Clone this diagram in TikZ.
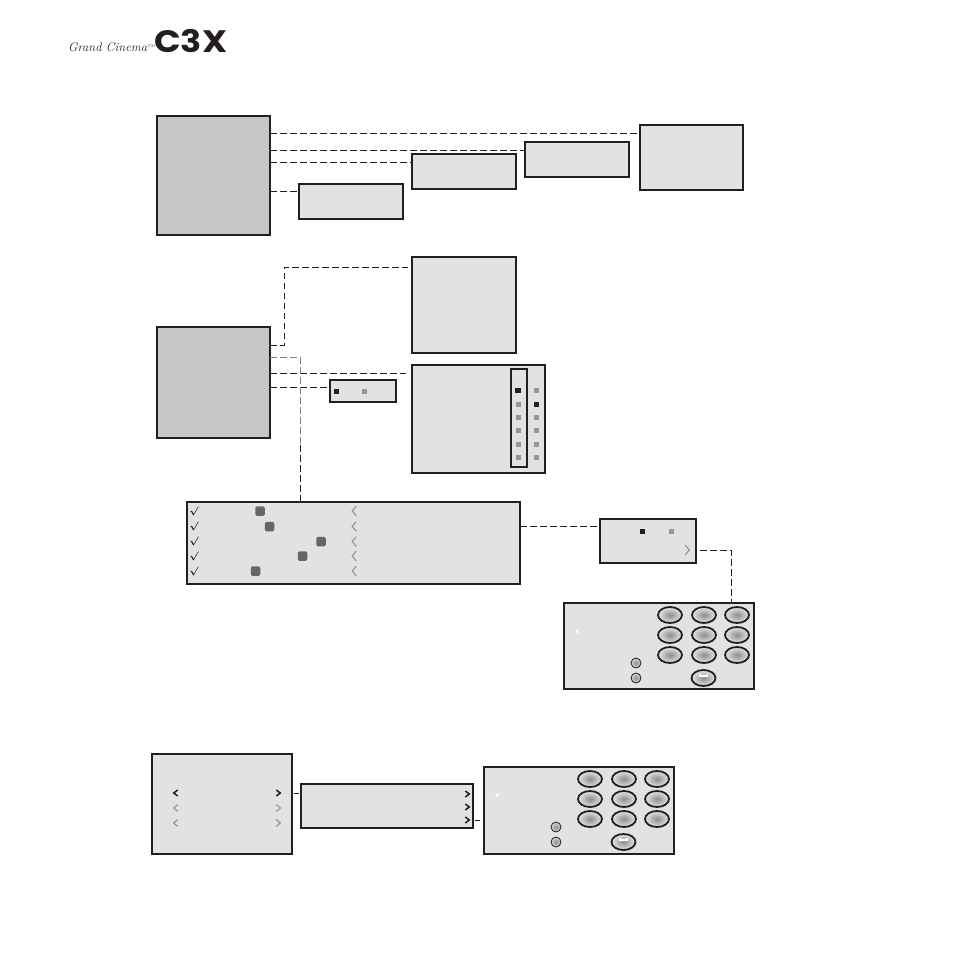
\documentclass[tikz,border=0pt]{standalone}
\usepackage{fontspec}
\usepackage{xcolor}
\definecolor{inkdark}{RGB}{35,31,32}
\definecolor{panelgrey}{RGB}{226,226,226}
\definecolor{maingrey}{RGB}{198,198,198}
\definecolor{dotgrey}{RGB}{150,150,150}
\definecolor{knobgrey}{RGB}{102,102,102}
\newfontfamily\logofont{Poppins}
\usetikzlibrary{
  positioning,
  shapes.geometric,
  calc
}
\tikzset{
  mainbox/.style={draw=inkdark, line width=1.9pt, fill=maingrey,
    anchor=north west, inner sep=0pt, outer sep=0pt},
  panelbox/.style={mainbox, fill=panelgrey},
  markbox/.style={draw=inkdark, line width=1.6pt,
    anchor=north west, inner sep=0pt, outer sep=0pt},
  dotblack/.style={fill=inkdark, minimum size=5pt, inner sep=0pt},
  dotpale/.style={fill=dotgrey, minimum size=5pt, inner sep=0pt},
  knob/.style={fill=knobgrey, rounded corners=1.5pt, minimum size=9.5pt, inner sep=0pt},
  keyoval/.style={ellipse, draw=inkdark, line width=1.8pt, inner sep=0pt,
    minimum width=24pt, minimum height=16pt,
    inner color=gray!90, outer color=gray!20},
  keyround/.style={circle, draw=inkdark, line width=0.8pt, inner sep=0pt,
    minimum size=10pt, inner color=gray!85, outer color=gray!35},
  glyph/.style={inner sep=0pt, font=\small\boldmath},
  chevpale/.style={draw=dotgrey, line width=1.2pt},
  chevdark/.style={draw=inkdark, line width=1.5pt},
  wire/.style={draw=inkdark, line width=0.8pt, dash pattern=on 6.5pt off 3.5pt},
}
% left and right pointing marks: style, x, y, half height
\newcommand{\chevleft}[4]{\draw[#1] (#2+2.2,#3-#4) -- (#2-1.8,#3) -- (#2+2.2,#3+#4);}
\newcommand{\chevright}[4]{\draw[#1] (#2-2.2,#3-#4) -- (#2+1.8,#3) -- (#2-2.2,#3+#4);}
\newcommand{\keybuttons}[3]{
  \begin{scope}[shift={(#2,#3)}]
    \foreach \row/\ky in {1/12,2/32,3/52}
      \foreach \col/\kx in {1/106,2/140,3/173}
        \node[keyoval] (#1k\row\col) at (\kx,\ky) {};
    \node[keyround] (#1ra) at (72,60) {};
    \node[keyround] (#1rb) at (72,75) {};
    \node[keyoval] (#1ok) at (139.5,75) {};
    \draw[white, line width=1.2pt] ($(#1ok)+(-3.5,-4.5)$) -- ($(#1ok)+(-3.5,-2)$) -- ($(#1ok)+(3.5,-2)$) -- ($(#1ok)+(3.5,-4.5)$);
    \fill[white] (11,29.5) -- (15,29.5) -- (13,26) -- cycle;
  \end{scope}
}

\begin{document}
\begin{tikzpicture}[x=1pt, y=-1pt]
  \useasboundingbox (0,0) rectangle (955,955);

  % Logo
  \node[anchor=west, inner sep=0pt, font=\itshape\fontsize{12.5}{14}\selectfont, text=inkdark] (brand)
    at (68,47.5) {Grand Cinema\textsuperscript{\fontsize{4}{4}\selectfont TM}};
  \node[anchor=west, inner sep=0pt, font=\logofont\bfseries\fontsize{31}{31}\selectfont,
    text=inkdark] (cthree) at (154,41) {\scalebox{1.13}[1]{C3X}};

  % First row
  \node[mainbox, minimum width=113pt, minimum height=119pt] (maina) at (157,116) {};
  \node[panelbox, minimum width=103pt, minimum height=65pt] (boxd) at (640,125) {};
  \node[panelbox, minimum width=104pt, minimum height=35pt] (boxc) at (525,142) {};
  \node[panelbox, minimum width=104pt, minimum height=35pt] (boxb) at (412,154) {};
  \node[panelbox, minimum width=104pt, minimum height=35pt] (boxa) at (299,184) {};

  \draw[wire] (maina.east |- 0,133) -- (boxd.west |- 0,133);
  \draw[wire] (maina.east |- 0,150) -- (boxc.west |- 0,150);
  \draw[wire] (maina.east |- 0,162) -- (boxb.west |- 0,162);
  \draw[wire] (maina.east |- 0,191) -- (boxa.west |- 0,191);

  % Second row
  \node[mainbox, minimum width=113pt, minimum height=111pt] (mainb) at (157,327) {};
  \node[panelbox, minimum width=104pt, minimum height=96pt] (picbox) at (412,257) {};
  \node[panelbox, minimum width=133pt, minimum height=108pt] (gridbox) at (412,365) {};
  \node[panelbox, minimum width=66pt, minimum height=22pt] (tinybox) at (330,380) {};
  \node[markbox, minimum width=16pt, minimum height=98pt] (colmark) at (511,369) {};

  \node[dotblack] (tinyon) at (336,391) {};
  \node[dotpale] (tinyoff) at (364,391) {};
  \foreach \n/\y in {1/390.5,2/404,3/417,4/430,5/444,6/457} {
    \node[dotpale] (gl\n) at (518,\y) {};
    \node[dotpale] (gr\n) at (536,\y) {};
  }
  \node[dotblack, minimum size=5.5pt] (glon) at (518,390.5) {};
  \node[dotblack] (gron) at (536,404) {};

  \draw[wire] (mainb.east |- 0,345) -| (284,267) -- ([xshift=-4pt]picbox.west |- 0,267);
  \draw[wire] (mainb.east |- 0,373) -- ([xshift=-6pt]gridbox.west |- 0,373);
  \draw[wire] (mainb.east |- 0,387) -- (tinybox.west |- 0,387);

  % List panel
  \node[panelbox, minimum width=333pt, minimum height=82pt] (listbox) at (187,502) {};
  \foreach \n/\y/\kx in {1/511/260,2/526.5/269.5,3/541.5/321,4/556/302.5,5/571/255.5} {
    \node[glyph] (chk\n) at (194,\y) {$\surd$};
    \node[knob] (knob\n) at (\kx,\y) {};
    \chevleft{chevpale}{354}{\y}{4.8}
  }
  \coordinate (fade) at (300,445);
  \draw[wire, draw=dotgrey!85!black] (mainb.east |- 0,357) -| (fade);
  \draw[wire] (fade) -- (listbox.north -| fade);

  % Setting panel
  \node[panelbox, minimum width=96pt, minimum height=44pt] (setbox) at (600,519) {};
  \node[dotblack] (seton) at (642.5,531.5) {};
  \node[dotpale] (setoff) at (671,531.5) {};
  \chevright{chevpale}{687.5}{550}{4.8}
  \draw[wire] (listbox.east |- 0,526) -- (setbox.west |- 0,526);

  % Keypads
  \node[panelbox, minimum width=190pt, minimum height=86pt] (keypada) at (564,603) {};
  \keybuttons{a}{564}{603}
  \draw[wire] ([xshift=4pt]setbox.east |- 0,550) -| (keypada.north -| 731,0);

  % Bottom row
  \node[panelbox, minimum width=140pt, minimum height=100pt] (sidebox) at (152,754) {};
  \node[panelbox, minimum width=172pt, minimum height=44pt] (linebox) at (301,784) {};
  \node[panelbox, minimum width=190pt, minimum height=87pt] (keypadb) at (484,767) {};
  \keybuttons{b}{484}{767}

  \chevleft{chevdark}{175.5}{793}{3}
  \chevright{chevdark}{278.5}{793}{3}
  \foreach \y in {808,823} {
    \chevleft{chevpale}{175.5}{\y}{3.4}
    \chevright{chevpale}{278.5}{\y}{3.4}
  }
  \foreach \y in {794,807,820} {
    \chevright{chevdark}{467.5}{\y}{3}
  }

  \draw[draw=inkdark, line width=0.8pt, shorten <=1.5pt, shorten >=2.5pt] (sidebox.east |- 0,793) -- (linebox.west |- 0,793);
  \draw[draw=inkdark, line width=0.8pt, shorten <=1.5pt, shorten >=4pt] (linebox.east |- 0,820) -- (keypadb.west |- 0,820);
\end{tikzpicture}
\end{document}
